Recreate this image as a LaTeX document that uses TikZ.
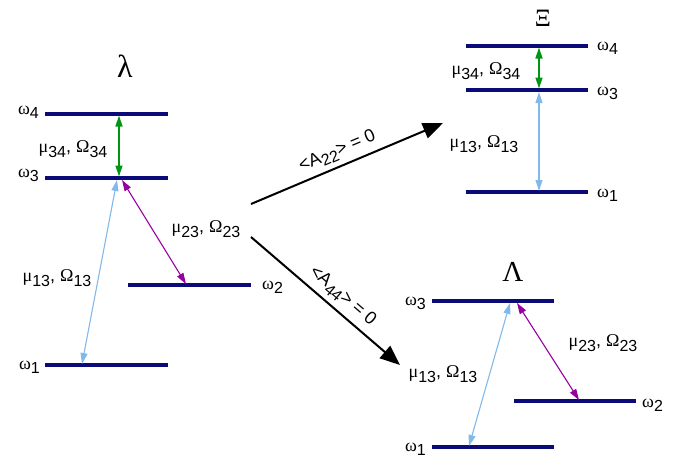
\documentclass[tikz,border=0pt]{standalone}
\usepackage{fontspec}
\setmainfont{Liberation Sans}
\newfontfamily\gr{Liberation Serif}
\usetikzlibrary{arrows.meta}
\definecolor{lvl}{RGB}{10,10,120}
\definecolor{lblue}{RGB}{130,185,235}
\definecolor{purp}{RGB}{150,0,160}
\definecolor{grn}{RGB}{0,150,20}
\newcommand\sbs[1]{\raisebox{-0.45ex}{\fontsize{16}{16}\selectfont #1}}
\newcommand\om[1]{{\gr ω}\sbs{#1}}
\newcommand\mo[1]{{\gr μ}\sbs{#1}, {\gr Ω}\sbs{#1}}
\begin{document}
\begin{tikzpicture}[x=1pt,y=-1pt,
  level/.style={draw=lvl,line width=3.2pt},
  lbl/.style={font=\fontsize{18}{20}\selectfont,inner sep=1pt},
  ttl/.style={inner sep=0pt},
  tr/.style={line width=1.1pt,{Triangle[length=11pt,width=7pt]}-{Triangle[length=11pt,width=7pt]}},
  big/.style={line width=2pt,-{Triangle[length=20pt,width=16pt]}}]
\useasboundingbox (0,0) rectangle (689,464);
% ---- lambda (left) ----
\node[ttl,font=\gr\fontsize{32}{34}\selectfont] (tl) at (125,66) {λ};
\coordinate (L4a) at (45,114); \coordinate (L4b) at (168,114);
\coordinate (L3a) at (45,178); \coordinate (L3b) at (168,178);
\coordinate (L2a) at (128,285); \coordinate (L2b) at (251,285);
\coordinate (L1a) at (45,365); \coordinate (L1b) at (168,365);
\draw[level] (L4a) -- (L4b);
\draw[level] (L3a) -- (L3b);
\draw[level] (L2a) -- (L2b);
\draw[level] (L1a) -- (L1b);
\node[lbl,anchor=east] (l4) at (40,112) {\om{4}};
\node[lbl,anchor=east] (l3) at (40,175) {\om{3}};
\node[lbl,anchor=west] (l2) at (261,287) {\om{2}};
\node[lbl,anchor=east] (l1) at (41,367) {\om{1}};
\coordinate (g1) at (119,115.5); \coordinate (g2) at (119,176.5);
\draw[tr,grn,line width=1.5pt] (g1) -- (g2);
\coordinate (b1) at (117,180); \coordinate (b2) at (82,364);
\draw[tr,lblue] (b1) -- (b2);
\coordinate (p1) at (122,180); \coordinate (p2) at (186,284);
\draw[tr,purp] (p1) -- (p2);
\node[lbl] (m34) at (73,149) {\mo{34}};
\node[lbl] (m23) at (206,229) {\mo{23}};
\node[lbl] (m13) at (57,278) {\mo{13}};
% ---- big arrows ----
\coordinate (a1) at (251,204); \coordinate (a2) at (443,123);
\coordinate (c1) at (251,237); \coordinate (c2) at (400,365);
\draw[big] (a1) -- (a2) node[lbl,sloped,pos=0.48,above=4pt] (A22) {<A\sbs{22}> = 0};
\draw[big] (c1) -- (c2) node[lbl,sloped,pos=0.55,above=4pt] (A44) {<A\sbs{44}> = 0};
% ---- Xi (top right) ----
\node[ttl,font=\gr\fontsize{25}{26}\selectfont] (tx) at (543,18) {Ξ};
\coordinate (X4a) at (466,46); \coordinate (X4b) at (588,46);
\coordinate (X3a) at (466,90); \coordinate (X3b) at (588,90);
\coordinate (X1a) at (466,192); \coordinate (X1b) at (588,192);
\draw[level] (X4a) -- (X4b);
\draw[level] (X3a) -- (X3b);
\draw[level] (X1a) -- (X1b);
\node[lbl,anchor=west] (x4) at (596,48) {\om{4}};
\node[lbl,anchor=west] (x3) at (596,93) {\om{3}};
\node[lbl,anchor=west] (x1) at (596,195) {\om{1}};
\coordinate (xg1) at (539,47.5); \coordinate (xg2) at (539,88.5);
\draw[tr,grn,line width=1.5pt] (xg1) -- (xg2);
\coordinate (xb1) at (539,92); \coordinate (xb2) at (539,191);
\draw[tr,lblue] (xb1) -- (xb2);
\node[lbl] (xm34) at (486,71) {\mo{34}};
\node[lbl] (xm13) at (484,144) {\mo{13}};
% ---- Lambda (bottom right) ----
\node[ttl,font=\gr\fontsize{29}{30}\selectfont] (tL) at (513,272) {Λ};
\coordinate (V3a) at (432,301); \coordinate (V3b) at (554,301);
\coordinate (V2a) at (514,401); \coordinate (V2b) at (636,401);
\coordinate (V1a) at (432,447); \coordinate (V1b) at (554,447);
\draw[level] (V3a) -- (V3b);
\draw[level] (V2a) -- (V2b);
\draw[level] (V1a) -- (V1b);
\node[lbl,anchor=east] (v3) at (427,303) {\om{3}};
\node[lbl,anchor=west] (v2) at (641,405) {\om{2}};
\node[lbl,anchor=east] (v1) at (427,449) {\om{1}};
\coordinate (vb1) at (510,303); \coordinate (vb2) at (469,446);
\draw[tr,lblue] (vb1) -- (vb2);
\coordinate (vp1) at (517,303); \coordinate (vp2) at (579,400);
\draw[tr,purp] (vp1) -- (vp2);
\node[lbl] (vm23) at (603,343) {\mo{23}};
\node[lbl] (vm13) at (443,374) {\mo{13}};
\end{tikzpicture}
\end{document}
